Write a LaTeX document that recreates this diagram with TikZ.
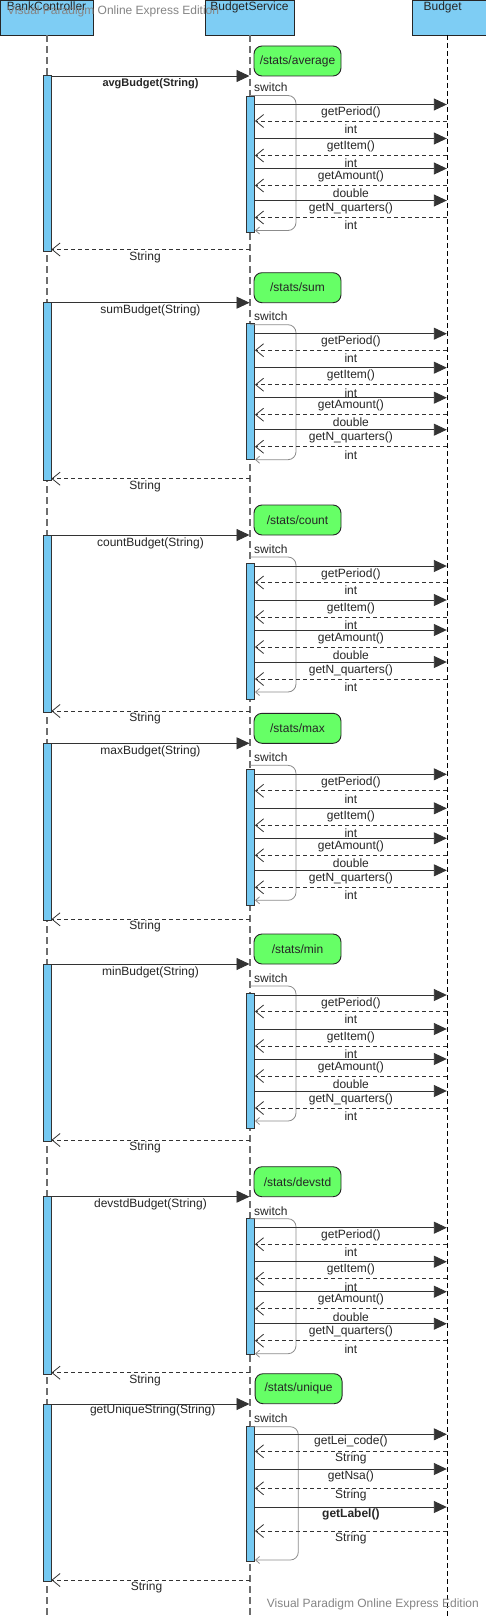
\documentclass[tikz,border=0pt]{standalone}
\usepackage{fontspec}
\setmainfont{Liberation Sans}
\usetikzlibrary{arrows.meta}
\definecolor{hdrblue}{HTML}{7ECDF4}
\definecolor{actblue}{HTML}{75C9F2}
\definecolor{pathgreen}{HTML}{66FF66}
\definecolor{wmgray}{HTML}{858585}
\definecolor{loopgray}{HTML}{8C8C8C}
\definecolor{lifegray}{HTML}{6E6E6E}
\tikzset{
  hdr/.style={draw=black!85, fill=hdrblue, line width=0.9pt},
  hdrtext/.style={anchor=north, inner sep=1pt, font=\fontsize{12}{14}\selectfont, text=black!85},
  life/.style={draw=lifegray, line width=1.2pt, dash pattern=on 7pt off 4pt},
  lifeb/.style={draw=black, line width=0.8pt, dash pattern=on 5pt off 3pt},
  actbox/.style={draw=black!80, fill=actblue, line width=0.9pt, minimum width=8pt, inner sep=0pt, anchor=north},
  pathbox/.style={draw=black!85, fill=pathgreen, rounded corners=8pt, minimum width=87pt, minimum height=30pt, inner sep=0pt, line width=0.9pt, font=\fontsize{12}{14}\selectfont, text=black!85},
  callmsg/.style={draw=black!80, line width=0.9pt, -{Triangle[length=13pt,width=12pt]}},
  retmsg/.style={draw=black!80, line width=0.9pt, dash pattern=on 4pt off 3pt, -{Straight Barb[length=8pt,width=13pt,line width=0.8pt]}},
  lbl/.style={font=\fontsize{12}{14}\selectfont, inner sep=0pt, text=black!85},
  looppath/.style={draw=loopgray, line width=0.8pt, rounded corners=8pt, -{Straight Barb[length=4pt,width=7pt]}},
  wm/.style={font=\fontsize{12}{14}\selectfont, text=wmgray, inner sep=0pt},
}
\newcommand{\statsec}[7]{%
  \pgfmathsetmacro{\sxAT}{#4+#5}%
  \pgfmathsetmacro{\sxAH}{#6-#5}%
  \pgfmathsetmacro{\sxBH}{176+#7+1.5}%
  \pgfmathsetmacro{\sxR}{#4+176+#7}%
  \pgfmathsetmacro{\sxLT}{#4+22+#7}%
  \pgfmathsetmacro{\sxLB}{#4+157+#7}%
  \pgfmathsetmacro{\sxSW}{#4+14+#7}%
  \node[pathbox] (p#1) at (297.5,#4-15) {#2};
  \node[actbox, minimum height=\sxBH pt] (bca#1) at (47,#4-0.5) {};
  \node[actbox, minimum height=\sxAH pt] (bsa#1) at (250.8,\sxAT) {};
  \coordinate (ct#1) at (249.5,#4);
  \draw[callmsg] (bca#1.east |- ct#1) -- node[lbl, yshift=-8pt] (cl#1) {#3} (ct#1);
  \node[lbl, anchor=west] (sw#1) at (254,\sxSW) {switch};
  \coordinate (lt#1) at (250,\sxLT);
  \coordinate (lb#1) at (255,\sxLB);
  \draw[looppath] (lt#1) -- (296,\sxLT) -- (296,\sxLB) -- (lb#1);
  \foreach \o/\t/\k/\s/\e [count=\i] in {31/getPeriod()/callmsg/ma/mb, 47.5/int/retmsg/mb/ma, 65/getItem()/callmsg/ma/mb, 82/int/retmsg/mb/ma, 95/getAmount()/callmsg/ma/mb, 112/double/retmsg/mb/ma, 127/getN\_quarters()/callmsg/ma/mb, 144/int/retmsg/mb/ma}{
    \pgfmathsetmacro{\my}{#4+\o+#7}
    \coordinate (ma) at (255,\my);
    \coordinate (mb) at (446.8,\my);
    \draw[\k] (\s) -- node[lbl, yshift=-8pt] (m#1-\i) {\t} (\e);
  }
  \coordinate (rs#1) at (249.5,\sxR);
  \draw[retmsg] (rs#1) -- (bca#1.east |- rs#1);
  \node[lbl] (rl#1) at (145,\sxR+7.5) {String};
}
\begin{document}
\begin{tikzpicture}[x=1pt,y=-1pt]
\fill[white] (0,0) rectangle (485,1616);
\useasboundingbox (0,0) rectangle (485,1616);
% headers
\draw[hdr] (0.5,0.5) rectangle (93,35);
\draw[hdr] (205,0.5) rectangle (294,35);
\draw[hdr] (412,0.5) rectangle (486,35);
\coordinate (bcTop) at (47,35);
\coordinate (bsTop) at (250,35);
\coordinate (bgTop) at (447,35);
\coordinate (bcBot) at (47,1616);
\coordinate (bsBot) at (250,1616);
\coordinate (bgBot) at (447,1616);
\draw[life] (bcTop) -- (bcBot);
\draw[life] (bsTop) -- (bsBot);
\draw[lifeb] (bgTop) -- (bgBot);
\node[hdrtext] (hBC) at (46.5,1) {BankController};
\node[hdrtext] (hBS) at (249.5,1) {BudgetService};
\node[hdrtext] (hBG) at (442.6,1) {Budget};
\node[wm, anchor=west] (wmTop) at (7,11) {Visual Paradigm Online Express Edition};
% sections
\statsec{1}{/stats/average}{\fontsize{11}{13}\selectfont\bfseries avgBudget(String)}{76}{19.7}{156}{-2.5}
\statsec{2}{/stats/sum}{sumBudget(String)}{302.7}{20.6}{156.6}{0}
\statsec{3}{/stats/count}{countBudget(String)}{535}{27.7}{164}{0}
\statsec{4}{/stats/max}{maxBudget(String)}{743.3}{25.7}{161.4}{0}
\statsec{5}{/stats/min}{minBudget(String)}{964}{28.7}{164.3}{0}
\statsec{6}{/stats/devstd}{devstdBudget(String)}{1196.7}{21.6}{157.3}{0}
% unique section
\node[pathbox] (p7) at (298.6,1388.7) {/stats/unique};
\node[actbox, minimum height=177pt] (bca7) at (47,1403.7) {};
\node[actbox, minimum height=135.3pt] (bsa7) at (250.8,1425.7) {};
\coordinate (ct7) at (249.5,1404);
\draw[callmsg] (bca7.east |- ct7) -- (ct7);
\node[lbl] (cl7) at (152.7,1410.7) {getUniqueString(String)};
\node[lbl, anchor=west] (sw7) at (254,1417.7) {switch};
\coordinate (lt7) at (250,1426.7);
\coordinate (lb7) at (255,1560);
\draw[looppath] (lt7) -- (298.3,1426.7) -- (298.3,1560) -- (lb7);
\foreach \y/\t/\k/\s/\e [count=\i] in {1434.3/getLei\_code()/callmsg/ma/mb, 1451.3/String/retmsg/mb/ma, 1469/getNsa()/callmsg/ma/mb, 1488.3/String/retmsg/mb/ma, 1507/\bfseries getLabel()/callmsg/ma/mb, 1531/String/retmsg/mb/ma}{
  \coordinate (ma) at (255,\y);
  \coordinate (mb) at (446.8,\y);
  \draw[\k] (\s) -- node[lbl, yshift=-7pt] (m7-\i) {\t} (\e);
}
\coordinate (rs7) at (249.5,1580);
\draw[retmsg] (rs7) -- (bca7.east |- rs7);
\node[lbl] (rl7) at (146.5,1587.7) {String};
\node[wm, anchor=east] (wmBot) at (479,1604.7) {Visual Paradigm Online Express Edition};
\end{tikzpicture}
\end{document}
